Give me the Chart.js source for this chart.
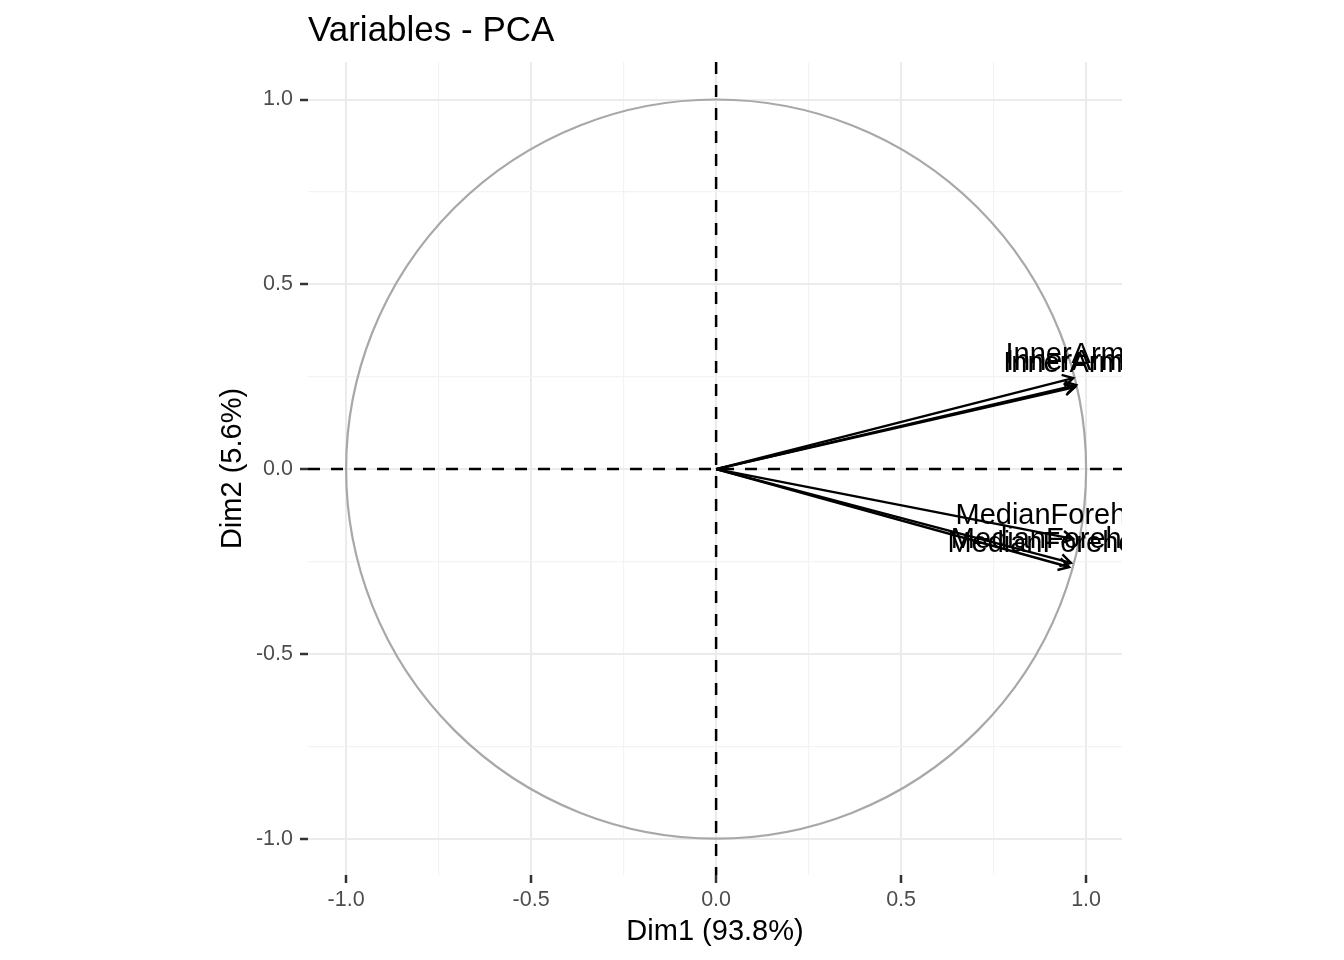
<!DOCTYPE html>
<html>
<head>
<meta charset="utf-8">
<title>Variables - PCA</title>
<script src="https://cdn.jsdelivr.net/npm/chart.js@4.4.0/dist/chart.umd.min.js"></script>
<style>
  html, body { margin: 0; padding: 0; background: #fff; }
  canvas { display: block; }
</style>
</head>
<body>
<canvas id="grafico-pca" width="1344" height="960" style="width:1344px;height:960px"></canvas>
<script>
// variaveis e coordenadas
const variableNames = ['InnerArmL', 'InnerArmR', 'InnerArmM', 'MedianForeheadL', 'MedianForeheadR', 'MedianForeheadM'];
const dim1Values = [0.965, 0.973, 0.970, 0.965, 0.959, 0.954];
const dim2Values = [0.246, 0.227, 0.222, -0.189, -0.254, -0.265];

const majorTicks = [-1, -0.5, 0, 0.5, 1];
const minorTicks = [-0.75, -0.25, 0.25, 0.75];
const tickLabels = ['-1.0', '-0.5', '0.0', '0.5', '1.0'];
const circleRadius = 1;

const fontFamily = '"Liberation Sans", Arial, Helvetica, sans-serif';

function isMajor(ctx) {
    return ctx.tick && majorTicks.includes(ctx.tick.value);
}

function buildTicks(scale) {
    scale.ticks = majorTicks.concat(minorTicks)
        .sort((a, b) => a - b)
        .map(v => ({ value: v }));
}

function tickLabel(value) {
    const i = majorTicks.indexOf(value);
    return i >= 0 ? tickLabels[i] : '';
}

const gridOptions = {
    color: ctx => isMajor(ctx) ? '#EBEBEB' : '#F3F3F3',
    lineWidth: ctx => isMajor(ctx) ? 2 : 1.2,
    tickColor: ctx => isMajor(ctx) ? '#333333' : 'rgba(0,0,0,0)',
    tickWidth: 2.5,
    tickLength: 8,
    drawTicks: true
};

// circulo de correlacao + linhas tracejadas em zero
const circlePlugin = {
    id: 'circlePlugin',
    beforeDatasetsDraw(chart) {
        const { ctx, chartArea, scales: { x, y } } = chart;
        const cx = x.getPixelForValue(0);
        const cy = y.getPixelForValue(0);
        const rx = x.getPixelForValue(circleRadius) - cx;
        const ry = cy - y.getPixelForValue(circleRadius);

        ctx.save();
        ctx.strokeStyle = '#A8A8A8';
        ctx.lineWidth = 2.2;
        ctx.beginPath();
        ctx.ellipse(cx, cy, rx, ry, 0, 0, Math.PI * 2);
        ctx.stroke();

        ctx.strokeStyle = '#000';
        ctx.lineWidth = 2.5;
        ctx.setLineDash([12, 11]);
        ctx.beginPath();
        ctx.moveTo(chartArea.left, cy);
        ctx.lineTo(chartArea.right, cy);
        ctx.moveTo(cx, chartArea.top);
        ctx.lineTo(cx, chartArea.bottom);
        ctx.stroke();
        ctx.restore();
    }
};

// pontas das setas e rotulos
const arrowPlugin = {
    id: 'arrowPlugin',
    afterDatasetsDraw(chart) {
        const { ctx, chartArea, scales: { x, y } } = chart;
        const x0 = x.getPixelForValue(0);
        const y0 = y.getPixelForValue(0);
        const headLen = 12;
        const headAngle = Math.PI / 6;

        ctx.save();
        ctx.strokeStyle = '#000';
        ctx.lineWidth = 2.4;
        dim1Values.forEach((v, i) => {
            const px = x.getPixelForValue(v);
            const py = y.getPixelForValue(dim2Values[i]);
            const ang = Math.atan2(py - y0, px - x0);
            ctx.beginPath();
            ctx.moveTo(px - headLen * Math.cos(ang - headAngle), py - headLen * Math.sin(ang - headAngle));
            ctx.lineTo(px, py);
            ctx.lineTo(px - headLen * Math.cos(ang + headAngle), py - headLen * Math.sin(ang + headAngle));
            ctx.stroke();
        });

        ctx.beginPath();
        ctx.rect(chartArea.left, chartArea.top, chartArea.right - chartArea.left, chartArea.bottom - chartArea.top);
        ctx.clip();
        ctx.fillStyle = '#000';
        ctx.font = '29px ' + fontFamily;
        ctx.textAlign = 'center';
        ctx.textBaseline = 'middle';
        variableNames.forEach((name, i) => {
            const px = x.getPixelForValue(dim1Values[i]);
            const py = y.getPixelForValue(dim2Values[i]);
            ctx.fillText(name, px, py - 23);
        });
        ctx.restore();
    }
};

const datasets = variableNames.map((name, i) => ({
    label: name,
    data: [{ x: 0, y: 0 }, { x: dim1Values[i], y: dim2Values[i] }],
    showLine: true,
    borderColor: '#000',
    borderWidth: 2.4,
    pointRadius: 0,
    fill: false
}));

const ctx = document.getElementById('grafico-pca').getContext('2d');

const chart = new Chart(ctx, {
    type: 'scatter',
    data: { datasets: datasets },
    plugins: [circlePlugin, arrowPlugin],
    options: {
        responsive: false,
        animation: false,
        devicePixelRatio: 1,
        layout: {
            padding: { left: 215.6, right: 222, top: 0, bottom: 10.6 }
        },
        plugins: {
            legend: { display: false },
            tooltip: { enabled: false },
            title: {
                display: true,
                text: 'Variables - PCA',
                align: 'start',
                fullSize: false,
                color: '#000',
                font: { family: fontFamily, size: 35, weight: 'normal', lineHeight: 1.2 },
                padding: { top: 10, bottom: 10 }
            }
        },
        scales: {
            x: {
                type: 'linear',
                min: -1.103,
                max: 1.097,
                afterBuildTicks: buildTicks,
                afterFit: scale => { scale.height = 74.4; },
                border: { display: false },
                grid: gridOptions,
                ticks: {
                    autoSkip: false,
                    maxRotation: 0,
                    padding: 4,
                    color: '#4D4D4D',
                    font: { family: fontFamily, size: 21.5 },
                    callback: tickLabel
                },
                title: {
                    display: true,
                    text: 'Dim1 (93.8%)',
                    color: '#000',
                    padding: 0,
                    font: { family: fontFamily, size: 29, lineHeight: 1.2 }
                }
            },
            y: {
                type: 'linear',
                min: -1.0985,
                max: 1.1015,
                afterBuildTicks: buildTicks,
                afterFit: scale => { scale.width = 92.4; },
                border: { display: false },
                grid: gridOptions,
                ticks: {
                    autoSkip: false,
                    padding: 7,
                    color: '#4D4D4D',
                    font: { family: fontFamily, size: 21.5 },
                    callback: tickLabel
                },
                title: {
                    display: true,
                    text: 'Dim2 (5.6%)',
                    color: '#000',
                    padding: 0,
                    font: { family: fontFamily, size: 29, lineHeight: 1.2 }
                }
            }
        }
    }
});
</script>
</body>
</html>
